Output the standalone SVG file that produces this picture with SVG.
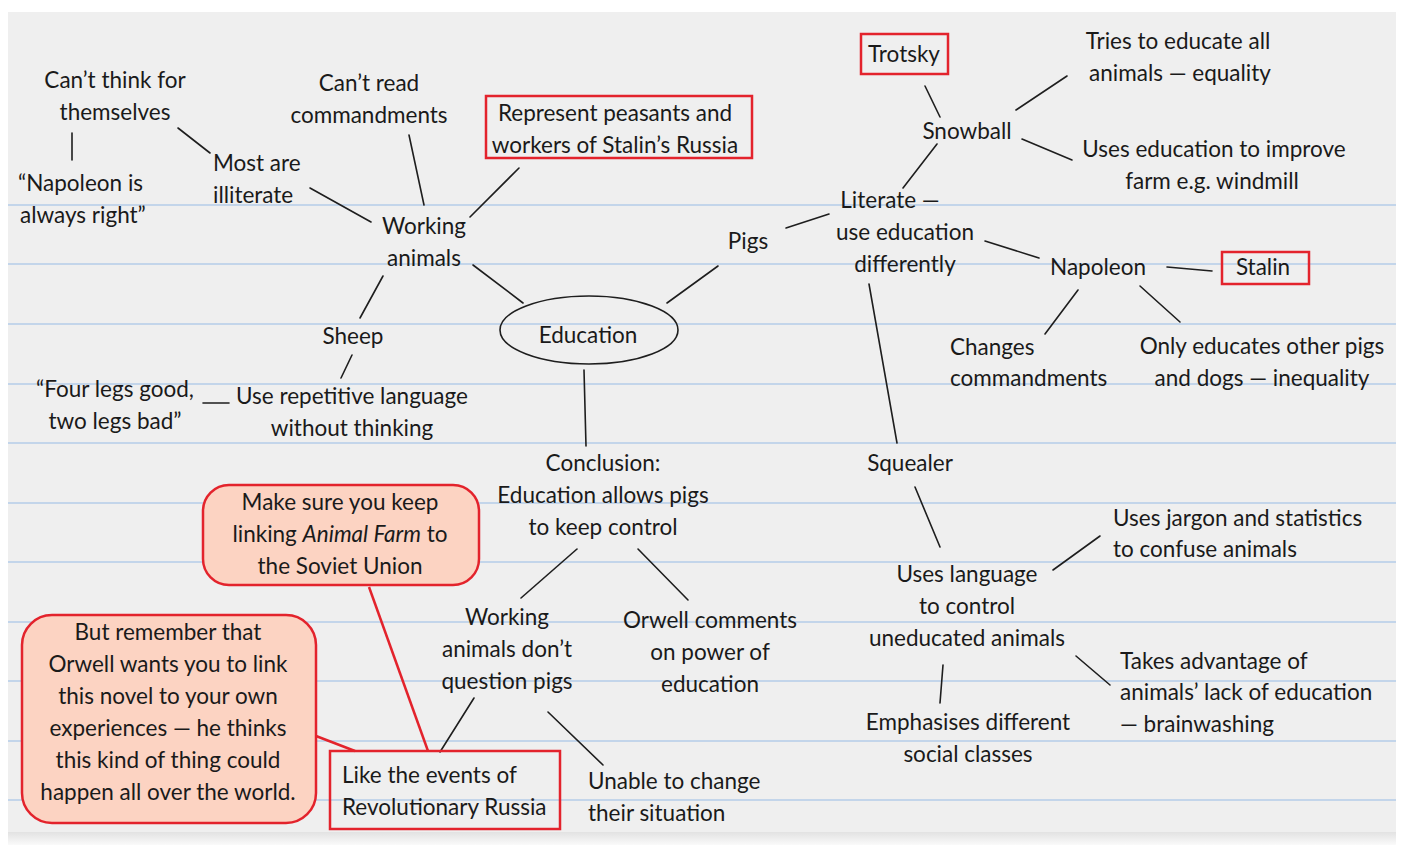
<svg xmlns="http://www.w3.org/2000/svg" width="1408" height="845" viewBox="0 0 1408 845">
<defs>
<linearGradient id="shadow" x1="0" y1="0" x2="0" y2="1">
<stop offset="0" stop-color="#e2e2e2"/>
<stop offset="1" stop-color="#fafafa"/>
</linearGradient>
</defs>
<style>
text{font-family:"Lato","Open Sans","Liberation Sans",sans-serif;font-size:22.5px;font-weight:400;fill:#1a1a1a}
.c{text-anchor:middle}
.l{stroke:#1e1e1e;stroke-width:1.6;fill:none;stroke-linecap:round}
.rule{stroke:#b5cde8;stroke-width:1.5}
.box{fill:none;stroke:#e3232c;stroke-width:2.5}
.call{fill:#fcd3c2;stroke:#e3232c;stroke-width:2.5}
.rl{stroke:#e3232c;stroke-width:2.5;fill:none}
</style>
<rect x="0" y="0" width="1408" height="845" fill="#ffffff"/>
<rect x="8" y="12" width="1388" height="826" fill="#efefef"/>
<rect x="8" y="832" width="1388" height="13" fill="url(#shadow)"/>
<g id="rules">
<line class="rule" x1="8" y1="205" x2="1396" y2="205"/>
<line class="rule" x1="8" y1="264" x2="1396" y2="264"/>
<line class="rule" x1="8" y1="324" x2="1396" y2="324"/>
<line class="rule" x1="8" y1="384" x2="1396" y2="384"/>
<line class="rule" x1="8" y1="443" x2="1396" y2="443"/>
<line class="rule" x1="8" y1="503" x2="1396" y2="503"/>
<line class="rule" x1="8" y1="562" x2="1396" y2="562"/>
<line class="rule" x1="8" y1="622" x2="1396" y2="622"/>
<line class="rule" x1="8" y1="681" x2="1396" y2="681"/>
<line class="rule" x1="8" y1="741" x2="1396" y2="741"/>
<line class="rule" x1="8" y1="800" x2="1396" y2="800"/>
</g>
<g id="connectors">
<line class="l" x1="72" y1="133" x2="72" y2="160"/>
<line class="l" x1="178" y1="128" x2="210" y2="153"/>
<line class="l" x1="310" y1="188" x2="371" y2="222"/>
<line class="l" x1="409" y1="135" x2="424" y2="205"/>
<line class="l" x1="519" y1="168" x2="470" y2="217"/>
<line class="l" x1="473" y1="265" x2="523" y2="303"/>
<line class="l" x1="383" y1="276" x2="360" y2="318"/>
<line class="l" x1="352" y1="355" x2="341" y2="378"/>
<line class="l" x1="203" y1="403" x2="229" y2="403"/>
<line class="l" x1="667" y1="303" x2="718" y2="266"/>
<line class="l" x1="786" y1="228" x2="829" y2="214"/>
<line class="l" x1="937" y1="144" x2="903" y2="188"/>
<line class="l" x1="925" y1="86" x2="940" y2="117"/>
<line class="l" x1="1016" y1="110" x2="1067" y2="76"/>
<line class="l" x1="1022" y1="139" x2="1072" y2="160"/>
<line class="l" x1="985" y1="241" x2="1039" y2="258"/>
<line class="l" x1="1167" y1="267" x2="1212" y2="271"/>
<line class="l" x1="1078" y1="290" x2="1045" y2="334"/>
<line class="l" x1="1140" y1="286" x2="1180" y2="322"/>
<line class="l" x1="869" y1="284" x2="897" y2="443"/>
<line class="l" x1="915" y1="487" x2="940" y2="547"/>
<line class="l" x1="1053" y1="570" x2="1100" y2="536"/>
<line class="l" x1="1076" y1="656" x2="1110" y2="685"/>
<line class="l" x1="943" y1="665" x2="940" y2="703"/>
<line class="l" x1="584" y1="370" x2="586" y2="446"/>
<line class="l" x1="577" y1="549" x2="521" y2="598"/>
<line class="l" x1="638" y1="549" x2="688" y2="600"/>
<line class="l" x1="474" y1="698" x2="440" y2="752"/>
<line class="l" x1="548" y1="712" x2="603" y2="765"/>
<line class="rl" x1="369" y1="587" x2="428" y2="751"/>
<line class="rl" x1="316" y1="736" x2="355" y2="751"/>
</g>
<g id="n-cantthink"><text class="c" x="115" y="88">Can’t think for</text><text class="c" x="115" y="120">themselves</text></g>
<g id="n-napright"><text x="18" y="191">“Napoleon is</text><text x="20" y="223">always right”</text></g>
<g id="n-illiterate"><text x="213" y="171">Most are</text><text x="213" y="203">illiterate</text></g>
<g id="n-cantread"><text class="c" x="369" y="91">Can’t read</text><text class="c" x="369" y="123">commandments</text></g>
<g id="n-working"><text class="c" x="424" y="234">Working</text><text class="c" x="424" y="266">animals</text></g>
<g id="n-represent"><rect class="box" x="486" y="96" width="266" height="62"/><text class="c" x="615" y="121">Represent peasants and</text><text class="c" x="615" y="153">workers of Stalin’s Russia</text></g>
<g id="n-sheep"><text class="c" x="353" y="344">Sheep</text></g>
<g id="n-repetitive"><text class="c" x="352" y="404">Use repetitive language</text><text class="c" x="352" y="436">without thinking</text></g>
<g id="n-fourlegs"><text class="c" x="115" y="397">“Four legs good,</text><text class="c" x="115" y="429">two legs bad”</text></g>
<g id="n-education"><ellipse cx="589" cy="330" rx="89" ry="34" fill="none" stroke="#1e1e1e" stroke-width="1.6"/><text class="c" x="588" y="343">Education</text></g>
<g id="n-pigs"><text class="c" x="748" y="249">Pigs</text></g>
<g id="n-literate"><text class="c" x="890" y="208">Literate —</text><text class="c" x="905" y="240">use education</text><text class="c" x="905" y="272">differently</text></g>
<g id="n-trotsky"><rect class="box" x="861" y="34" width="87" height="40"/><text class="c" x="904" y="62">Trotsky</text></g>
<g id="n-snowball"><text class="c" x="967" y="139">Snowball</text></g>
<g id="n-tries"><text class="c" x="1178" y="49">Tries to educate all</text><text class="c" x="1180" y="81">animals — equality</text></g>
<g id="n-usesedu"><text class="c" x="1214" y="157">Uses education to improve</text><text class="c" x="1212" y="189">farm e.g. windmill</text></g>
<g id="n-napoleon"><text class="c" x="1098" y="275">Napoleon</text></g>
<g id="n-stalin"><rect class="box" x="1222" y="252" width="87" height="32"/><text class="c" x="1263" y="275">Stalin</text></g>
<g id="n-changes"><text x="950" y="355">Changes</text><text x="950" y="386">commandments</text></g>
<g id="n-only"><text class="c" x="1262" y="354">Only educates other pigs</text><text class="c" x="1262" y="386">and dogs — inequality</text></g>
<g id="n-squealer"><text class="c" x="910" y="471">Squealer</text></g>
<g id="n-language"><text class="c" x="967" y="582">Uses language</text><text class="c" x="967" y="614">to control</text><text class="c" x="967" y="646">uneducated animals</text></g>
<g id="n-jargon"><text x="1113" y="526">Uses jargon and statistics</text><text x="1113" y="557">to confuse animals</text></g>
<g id="n-takes"><text x="1120" y="669">Takes advantage of</text><text x="1120" y="700">animals’ lack of education</text><text x="1120" y="732">— brainwashing</text></g>
<g id="n-emph"><text class="c" x="968" y="730">Emphasises different</text><text class="c" x="968" y="762">social classes</text></g>
<g id="n-conclusion"><text class="c" x="603" y="471">Conclusion:</text><text class="c" x="603" y="503">Education allows pigs</text><text class="c" x="603" y="535">to keep control</text></g>
<g id="n-wadq"><text class="c" x="507" y="625">Working</text><text class="c" x="507" y="657">animals don’t</text><text class="c" x="507" y="689">question pigs</text></g>
<g id="n-orwell"><text class="c" x="710" y="628">Orwell comments</text><text class="c" x="710" y="660">on power of</text><text class="c" x="710" y="692">education</text></g>
<g id="n-unable"><text x="588" y="789">Unable to change</text><text x="588" y="821">their situation</text></g>
<g id="n-like"><rect class="box" x="330" y="751" width="230" height="78"/><text x="342" y="783">Like the events of</text><text x="342" y="815">Revolutionary Russia</text></g>
<g id="n-callout1"><rect class="call" x="203" y="485" width="276" height="100" rx="26"/><text class="c" x="340" y="510">Make sure you keep</text><text class="c" x="340" y="542">linking <tspan font-style="italic">Animal Farm</tspan> to</text><text class="c" x="340" y="574">the Soviet Union</text></g>
<g id="n-callout2"><rect class="call" x="22" y="615" width="294" height="208" rx="30"/><text class="c" x="168" y="640">But remember that</text><text class="c" x="168" y="672">Orwell wants you to link</text><text class="c" x="168" y="704">this novel to your own</text><text class="c" x="168" y="736">experiences — he thinks</text><text class="c" x="168" y="768">this kind of thing could</text><text class="c" x="168" y="800">happen all over the world.</text></g>
</svg>
